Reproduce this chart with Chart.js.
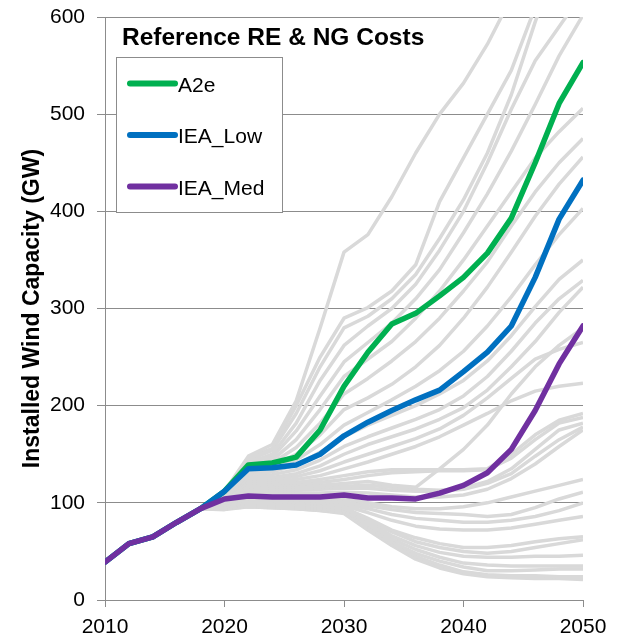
<!DOCTYPE html>
<html>
<head>
<meta charset="utf-8">
<title>Installed Wind Capacity</title>
<script src="https://cdn.jsdelivr.net/npm/chart.js@4.4.0/dist/chart.umd.min.js"></script>
<style>
  html, body { margin: 0; padding: 0; background: #fff; }
</style>
</head>
<body>
<canvas id="windChart" width="623" height="639"></canvas>
<script>
// Model years (every second year)
const years = [2010, 2012, 2014, 2016, 2018, 2020, 2022, 2024, 2026, 2028, 2030,
               2032, 2034, 2036, 2038, 2040, 2042, 2044, 2046, 2048, 2050];

// Highlighted scenarios (GW)
const a2e    = [39, 58, 65, 80, 94, 112, 139, 141, 147, 175, 220, 255, 284, 295, 313, 332, 357, 393, 450, 511, 553];
const ieaLow = [39, 58, 65, 80, 94, 112, 135, 136, 139, 150, 169, 183, 195, 206, 216, 235, 255, 282, 332, 392, 432];
const ieaMed = [39, 58, 65, 80, 94, 104, 107, 106, 106, 106, 108, 105, 105, 104, 110, 118, 131, 155, 195, 243, 282];

// All other runs under reference RE & NG costs (GW)
const otherRuns = [
  [39, 58, 65, 80, 94, 112, 148, 160, 205, 280, 358, 376, 415, 460, 500, 532, 572, 620, 670, 720, 760],
  [39, 58, 65, 80, 94, 110, 146, 156, 200, 250, 290, 301, 318, 345, 410, 455, 500, 545, 610, 660, 710],
  [39, 58, 65, 80, 94, 109, 144, 154, 192, 240, 280, 292, 310, 335, 372, 412, 460, 520, 595, 660, 720],
  [39, 58, 65, 80, 94, 108, 141, 150, 182, 226, 262, 282, 300, 325, 360, 400, 450, 505, 555, 590, 625],
  [39, 58, 65, 80, 94, 107, 139, 147, 174, 210, 245, 265, 285, 310, 340, 378, 418, 462, 510, 560, 602],
  [39, 58, 65, 80, 94, 106, 137, 144, 165, 196, 230, 248, 266, 290, 318, 350, 385, 420, 455, 482, 506],
  [39, 58, 65, 80, 94, 105, 135, 141, 157, 182, 212, 228, 246, 266, 290, 318, 348, 385, 420, 450, 475],
  [39, 58, 65, 80, 94, 105, 133, 138, 150, 170, 196, 208, 222, 240, 262, 290, 322, 358, 395, 428, 456],
  [39, 58, 65, 80, 94, 104, 131, 135, 144, 160, 180, 193, 206, 220, 236, 256, 282, 312, 345, 376, 403],
  [39, 58, 65, 80, 94, 104, 129, 132, 139, 152, 168, 180, 190, 200, 212, 226, 246, 272, 302, 330, 350],
  [39, 58, 65, 80, 94, 103, 126, 129, 134, 144, 158, 168, 177, 186, 196, 210, 230, 256, 285, 310, 329],
  [39, 58, 65, 80, 94, 103, 124, 126, 130, 138, 150, 160, 168, 176, 186, 198, 216, 240, 266, 296, 322],
  [39, 58, 65, 80, 94, 102, 122, 124, 127, 133, 142, 150, 158, 166, 176, 190, 208, 228, 248, 258, 265],
  [39, 58, 65, 80, 94, 102, 120, 122, 124, 128, 135, 142, 150, 158, 168, 180, 192, 205, 215, 220, 223],
  [39, 58, 65, 80, 94, 101, 118, 120, 121, 124, 128, 132, 134, 134, 134, 134, 135, 150, 170, 185, 192],
  [39, 58, 65, 80, 94, 101, 116, 118, 119, 121, 124, 128, 131, 132, 133, 133, 134, 146, 165, 182, 188],
  [39, 58, 65, 80, 94, 100, 114, 116, 117, 118, 120, 122, 118, 116, 135, 155, 180, 212, 240, 262, 280],
  [39, 58, 65, 80, 94, 100, 112, 114, 115, 116, 117, 118, 116, 114, 113, 115, 122, 135, 155, 175, 182],
  [39, 58, 65, 80, 94, 99, 110, 112, 113, 114, 115, 115, 113, 112, 112, 114, 120, 130, 148, 165, 178],
  [39, 58, 65, 80, 94, 99, 108, 109, 110, 110, 111, 110, 108, 106, 106, 108, 114, 125, 140, 158, 175],
  [39, 58, 65, 80, 94, 98, 105, 106, 106, 105, 104, 100, 96, 94, 94, 96, 100, 106, 112, 118, 124],
  [39, 58, 65, 80, 94, 98, 104, 104, 103, 102, 101, 97, 93, 90, 89, 88, 86, 88, 95, 104, 111],
  [39, 58, 65, 80, 94, 97, 102, 102, 101, 100, 99, 94, 88, 84, 82, 80, 80, 82, 86, 92, 100],
  [39, 58, 65, 80, 94, 97, 101, 101, 100, 99, 97, 90, 82, 76, 73, 72, 72, 74, 78, 82, 86],
  [39, 58, 65, 80, 94, 96, 100, 99, 98, 97, 95, 84, 72, 64, 58, 54, 54, 56, 60, 63, 65],
  [39, 58, 65, 80, 94, 96, 99, 98, 97, 96, 94, 82, 70, 60, 54, 50, 48, 50, 54, 58, 62],
  [39, 58, 65, 80, 94, 95, 98, 97, 96, 95, 93, 80, 66, 56, 49, 45, 44, 44, 45, 45, 46],
  [39, 58, 65, 80, 94, 95, 97, 96, 95, 94, 92, 78, 63, 52, 44, 38, 36, 35, 35, 35, 35],
  [39, 58, 65, 80, 94, 94, 97, 96, 95, 93, 91, 76, 60, 48, 40, 34, 30, 30, 31, 32, 32],
  [39, 58, 65, 80, 94, 94, 96, 95, 94, 92, 90, 74, 58, 45, 36, 29, 26, 25, 25, 24, 24],
  [39, 58, 65, 80, 94, 93, 96, 95, 94, 92, 89, 72, 56, 42, 33, 27, 24, 23, 22, 22, 21]
];

const panelTitle = "Reference RE & NG Costs";
const yTitle = "Installed Wind Capacity (GW)";

const FONT = '"Liberation Sans", Arial, sans-serif';
const axisGrey = "#8c8c8c";

function toPoints(values) {
  return values.map((v, i) => ({ x: years[i], y: v }));
}

// highlighted series, drawn above the grey runs
const highlighted = [
  { label: "A2e", data: a2e, color: "#00b050", order: 2 },
  { label: "IEA_Low", data: ieaLow, color: "#0070c0", order: 1 },
  { label: "IEA_Med", data: ieaMed, color: "#7030a0", order: 0 }
];

const datasets = highlighted.map((s) => ({
  label: s.label,
  data: toPoints(s.data),
  borderColor: s.color,
  borderWidth: 5.5,
  pointRadius: 0,
  tension: 0,
  borderJoinStyle: "round",
  borderCapStyle: "round",
  order: s.order
})).concat(otherRuns.map((run) => ({
  label: "",
  data: toPoints(run),
  borderColor: "#d9d9d9",
  borderWidth: 3.5,
  pointRadius: 0,
  tension: 0,
  borderJoinStyle: "round",
  order: 5
})));

// Panel heading, rotated y title and the boxed legend
const decorPlugin = {
  id: "decor",
  afterDraw(chart) {
    const ctx = chart.ctx;
    const area = chart.chartArea;
    ctx.save();
    ctx.fillStyle = "#000";
    ctx.textBaseline = "alphabetic";

    ctx.font = "bold 24.5px " + FONT;
    ctx.textAlign = "left";
    ctx.fillText(panelTitle, 122, 45);

    // legend box
    ctx.fillStyle = "#fff";
    ctx.fillRect(117, 57, 166, 156);
    ctx.strokeStyle = axisGrey;
    ctx.lineWidth = 1;
    ctx.strokeRect(116.5, 57.5, 166, 155);

    ctx.font = "21px " + FONT;
    highlighted.forEach((s, i) => {
      const y = 83.5 + i * 51.5;
      ctx.strokeStyle = s.color;
      ctx.lineWidth = 6;
      ctx.lineCap = "round";
      ctx.beginPath();
      ctx.moveTo(130, y);
      ctx.lineTo(175, y);
      ctx.stroke();
      ctx.fillStyle = "#000";
      ctx.fillText(s.label, 178, y + 8);
    });

    // y axis title, centred on the plot height
    ctx.translate(38.5, (area.top + area.bottom) / 2);
    ctx.rotate(-Math.PI / 2);
    ctx.textAlign = "center";
    ctx.font = "bold 23px " + FONT;
    ctx.fillText(yTitle, 0, 0);
    ctx.restore();
  }
};

new Chart(document.getElementById("windChart"), {
  type: "line",
  data: { datasets: datasets },
  options: {
    responsive: false,
    animation: false,
    devicePixelRatio: 1,
    layout: { padding: { top: 17, right: 40, left: 0, bottom: 0 } },
    plugins: {
      legend: { display: false },
      tooltip: { enabled: false }
    },
    scales: {
      x: {
        type: "linear",
        min: 2010,
        max: 2050,
        afterFit: (scale) => { scale.height = 39; },
        border: { color: axisGrey, width: 1 },
        grid: { drawOnChartArea: false, drawTicks: true, tickLength: 7, color: axisGrey },
        ticks: {
          stepSize: 10,
          padding: 8,
          maxRotation: 0,
          color: "#000",
          font: { family: FONT, size: 21 },
          callback: (v) => String(v)
        }
      },
      y: {
        min: 0,
        max: 600,
        afterFit: (scale) => {
          scale.width = 105;
          // let the plot start right at the top padding
          scale.paddingTop = 0;
          scale.paddingBottom = 0;
        },
        border: { color: axisGrey, width: 1 },
        grid: { color: axisGrey, tickLength: 8 },
        ticks: {
          stepSize: 100,
          padding: 12,
          color: "#000",
          font: { family: FONT, size: 21 }
        }
      }
    }
  },
  plugins: [decorPlugin]
});
</script>
</body>
</html>
